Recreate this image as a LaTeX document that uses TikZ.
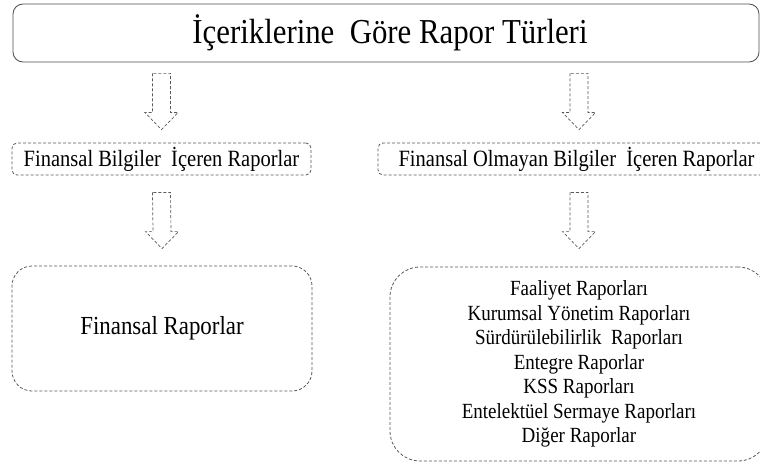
\documentclass[tikz,border=0pt]{standalone}
\usepackage{fontspec}
\setmainfont{Liberation Serif}
\newfontfamily\rapfont[FakeStretch=0.88]{Liberation Serif}
\usetikzlibrary{calc}

% hollow dashed block arrow from #1 (top of shaft) to #2 (tip)
\newcommand{\bosok}[2]{%
\draw[okcizgi] ($(#1)+(-9,0)$) -- ($(#2)+(-9,-17)$) -- ($(#2)+(-16.5,-17)$) -- (#2)
  -- ($(#2)+(16.5,-17)$) -- ($(#2)+(9,-17)$) -- ($(#1)+(9,0)$) -- cycle;}

\begin{document}
\begin{tikzpicture}[x=1pt,y=-1pt,
  kutu/.style={draw=black!65, dash pattern=on 3pt off 2pt, line width=0.8pt, inner sep=0pt},
  okcizgi/.style={draw=black!65, dash pattern=on 3pt off 2pt, line width=0.7pt, line join=miter}]
\useasboundingbox (0,0) rectangle (760,468);
\node[draw=black!70, line width=0.8pt, rounded corners=10pt, minimum width=746pt, minimum height=58pt, inner sep=0pt,
  font=\rapfont\fontsize{35}{40}\selectfont] (turler) at (386,33) {\hspace*{8pt}İçeriklerine\ \ Göre Rapor Türleri};
\node[kutu, rounded corners=5pt, minimum width=299pt, minimum height=32pt,
  font=\rapfont\fontsize{23.3}{27}\selectfont] (finbilgi) at (161.5,159) {Finansal Bilgiler\ \ İçeren Raporlar};
\node[kutu, rounded corners=5pt, minimum width=397pt, minimum height=32pt,
  font=\rapfont\fontsize{23.3}{27}\selectfont] (olmayan) at (576.5,159) {Finansal Olmayan Bilgiler\ \ İçeren Raporlar};
\node[kutu, rounded corners=20pt, minimum width=300pt, minimum height=125pt,
  font=\rapfont\fontsize{26}{30}\selectfont] (finrapor) at (162,328.5) {Finansal Raporlar};
\node[kutu, rounded corners=30pt, minimum width=378pt, minimum height=194pt, align=center,
  font=\rapfont\fontsize{21.6}{24.5}\selectfont] (liste) at (579,364) {Faaliyet Raporları\\Kurumsal Yönetim Raporları\\Sürdürülebilirlik\ \ Raporları\\Entegre Raporlar\\KSS Raporları\\Entelektüel Sermaye Raporları\\Diğer Raporlar};
\coordinate (o1b) at ($(turler.south -| finbilgi.north)+(0,11)$);
\coordinate (o1s) at ($(finbilgi.north)+(0,-13)$);
\coordinate (o2b) at ($(turler.south -| liste.north)+(0,11)$);
\coordinate (o2s) at ($(olmayan.north -| liste.north)+(0,-13)$);
\coordinate (o3b) at ($(finbilgi.south)+(0,17)$);
\coordinate (o3s) at ($(finrapor.north)+(0,-17)$);
\coordinate (o4b) at ($(olmayan.south -| liste.north)+(0,17)$);
\coordinate (o4s) at ($(liste.north)+(0,-18)$);
\bosok{o1b}{o1s}
\bosok{o2b}{o2s}
\bosok{o3b}{o3s}
\bosok{o4b}{o4s}
\end{tikzpicture}
\end{document}
